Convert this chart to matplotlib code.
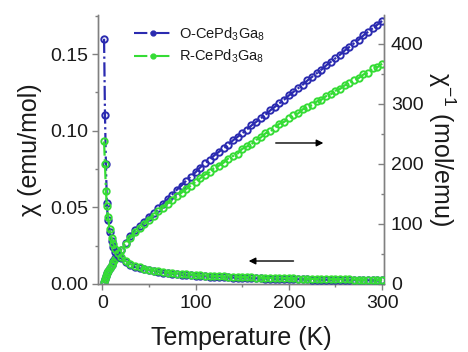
import matplotlib
matplotlib.use("Agg")
import matplotlib.pyplot as plt
from matplotlib.lines import Line2D
from matplotlib.ticker import MultipleLocator, FormatStrFormatter

plt.rcParams['font.family'] = ['Liberation Sans', 'DejaVu Sans']
plt.rcParams['mathtext.fontset'] = 'custom'
plt.rcParams['mathtext.rm'] = 'Liberation Sans'
plt.rcParams['mathtext.it'] = 'Liberation Sans:italic'
plt.rcParams['mathtext.bf'] = 'Liberation Sans:bold'

# ---------------- data ----------------
temperature = [2, 3, 4, 5, 6, 8, 10, 12, 14, 17, 20, 25, 30, 35, 40, 45, 50, 55, 60, 65,
               70, 75, 80, 85, 90, 95, 100, 105, 110, 115, 120, 125, 130, 135, 140, 145,
               150, 155, 160, 165, 170, 175, 180, 185, 190, 195, 200, 205, 210, 215, 220,
               225, 230, 235, 240, 245, 250, 255, 260, 265, 270, 275, 280, 285, 290, 295, 300]

chi_O = [0.160, 0.110, 0.078, 0.053, 0.042, 0.034, 0.028, 0.024, 0.021, 0.019, 0.0170,
         0.0145, 0.0125, 0.0111, 0.0103, 0.0096, 0.0089, 0.0084, 0.0079, 0.0075, 0.0071,
         0.0067, 0.0064, 0.0061, 0.0058, 0.0056, 0.0054, 0.0052, 0.0050, 0.0048, 0.0047,
         0.0045, 0.0044, 0.0043, 0.0042, 0.0041, 0.0040, 0.0039, 0.0038, 0.0037, 0.0036,
         0.0035, 0.0035, 0.0034, 0.0033, 0.0033, 0.0032, 0.0031, 0.0031, 0.0030, 0.0030,
         0.0029, 0.0028, 0.0028, 0.0028, 0.0027, 0.0027, 0.0026, 0.0026, 0.0025, 0.0025,
         0.0025, 0.0024, 0.0024, 0.0023, 0.0023, 0.0023]

chi_R = [0.093, 0.078, 0.061, 0.051, 0.044, 0.036, 0.030, 0.026, 0.023, 0.020, 0.0178,
         0.0150, 0.0130, 0.0116, 0.0108, 0.0100, 0.0093, 0.0088, 0.0083, 0.0079, 0.0075,
         0.0071, 0.0068, 0.0066, 0.0063, 0.0061, 0.0059, 0.0057, 0.0055, 0.0053, 0.0052,
         0.0051, 0.0049, 0.0048, 0.0047, 0.0046, 0.0045, 0.0044, 0.0043, 0.0042, 0.0041,
         0.0040, 0.0039, 0.0038, 0.0038, 0.0037, 0.0036, 0.0036, 0.0035, 0.0034, 0.0034,
         0.0033, 0.0033, 0.0032, 0.0032, 0.0031, 0.0031, 0.0031, 0.0030, 0.0030, 0.0029,
         0.0029, 0.0028, 0.0028, 0.0028, 0.0027, 0.0027]

inv_chi_O = [3, 8, 13, 18, 21, 27, 32, 38, 43, 50, 57, 69, 80, 90, 97, 104, 112, 119, 126,
             133, 141, 149, 157, 164, 172, 179, 186, 194, 201, 207, 214, 220, 226, 232,
             239, 245, 251, 257, 264, 270, 276, 282, 289, 295, 301, 307, 314, 320, 326,
             332, 339, 345, 351, 357, 364, 370, 376, 382, 389, 395, 401, 407, 414, 420,
             426, 432, 438]

inv_chi_R = [3, 8, 13, 18, 21, 27, 32, 37, 42, 49, 56, 67, 77, 86, 93, 100, 107, 114, 121,
             127, 134, 140, 146, 152, 158, 164, 170, 176, 182, 186, 193, 197, 202, 209,
             213, 217, 225, 229, 233, 240, 244, 251, 254, 260, 267, 270, 276, 282, 284,
             291, 295, 298, 304, 307, 313, 316, 322, 325, 331, 334, 340, 343, 349, 352,
             359, 361, 367]

labels = ['O-CePd$_3$Ga$_8$', 'R-CePd$_3$Ga$_8$']
blue = '#2b2bb0'
green = '#35dc35'

# ---------------- figure ----------------
W, H = 468, 352
fig = plt.figure(figsize=(W / 100, H / 100), dpi=100)
ax = fig.add_axes([98 / W, (H - 284) / H, 286 / W, 269 / H])
ax2 = ax.twinx()

ms, mew, lw = 4.6, 1.4, 1.6
ax.plot(temperature, chi_O, ls='-.', color=blue, lw=lw, marker='o', ms=ms,
        mfc='none', mec=blue, mew=mew, zorder=3)
ax2.plot(temperature, inv_chi_O, ls='-.', color=blue, lw=lw, marker='o', ms=ms,
         mfc='none', mec=blue, mew=mew, zorder=3)
ax2.plot(temperature, inv_chi_R, ls='-.', color=green, lw=lw, marker='o', ms=ms,
         mfc='none', mec=green, mew=mew, zorder=4)
ax.plot(temperature, chi_R, ls='-.', color=green, lw=lw, marker='o', ms=ms,
        mfc='none', mec=green, mew=mew, zorder=4)

# left axis above twin so green chi is on top
ax.set_zorder(ax2.get_zorder() + 1)
ax.patch.set_visible(False)

ax.set_xlim(-4.5, 302)
ax.set_ylim(0, 0.1755)
ax2.set_ylim(0, 448)

spine_col = '#808080'
for a in (ax, ax2):
    for s in a.spines.values():
        s.set_color(spine_col)
        s.set_linewidth(1.0)
    a.spines['top'].set_visible(False)

ax.xaxis.set_major_locator(MultipleLocator(100))
ax.xaxis.set_minor_locator(MultipleLocator(50))
ax.yaxis.set_major_locator(MultipleLocator(0.05))
ax.yaxis.set_minor_locator(MultipleLocator(0.025))
ax.yaxis.set_major_formatter(FormatStrFormatter('%.2f'))
ax2.yaxis.set_major_locator(MultipleLocator(100))
ax2.yaxis.set_minor_locator(MultipleLocator(50))

txt = '#1a1a1a'
ax.tick_params(axis='both', which='major', direction='out', length=4, width=1,
               color=spine_col, labelsize=14, labelcolor=txt, pad=3)
ax.tick_params(axis='x', which='major', pad=4)
ax.tick_params(axis='both', which='minor', direction='out', length=2.5, width=1,
               color=spine_col)
ax2.tick_params(axis='y', which='major', direction='in', length=4, width=1,
                color=spine_col, labelsize=14, labelcolor=txt, pad=5)
ax2.tick_params(axis='y', which='minor', direction='in', length=2.5, width=1,
                color=spine_col)

ax.set_xlabel('Temperature (K)', fontsize=18, color=txt, labelpad=10)
ax.set_ylabel('χ (emu/mol)', fontsize=18, color=txt, labelpad=6)
ax2.set_ylabel('χ$^{-1}$ (mol/emu)', fontsize=18, color=txt, rotation=270,
               labelpad=24)

# arrows
ax.annotate('', xy=(240, 0.092), xytext=(183, 0.092),
            arrowprops=dict(arrowstyle='-|>', color='k', lw=1.0, mutation_scale=10))
ax.annotate('', xy=(154, 0.015), xytext=(208, 0.015),
            arrowprops=dict(arrowstyle='-|>', color='k', lw=1.0, mutation_scale=10))

handles = [Line2D([], [], ls='-.', color=blue, lw=1.5, marker='o', ms=3.5),
           Line2D([], [], ls='-.', color=green, lw=1.5, marker='o', ms=3.5)]
ax.legend(handles, labels, loc='upper left', bbox_to_anchor=(0.08, 1.01), frameon=False,
          fontsize=10.5, handlelength=2.6, handletextpad=0.5, labelspacing=0.35,
          labelcolor=txt)

fig.savefig('out.png', dpi=100)
